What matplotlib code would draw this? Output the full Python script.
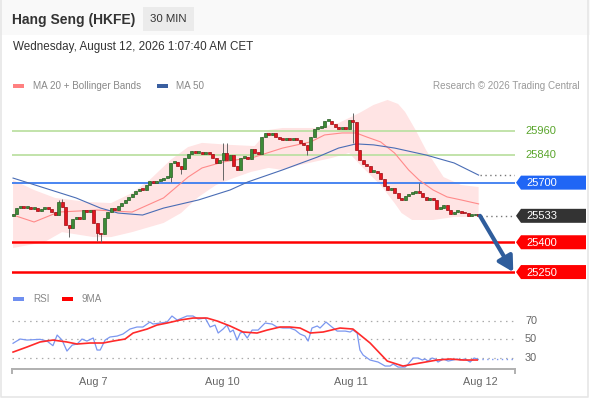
import numpy as np
import matplotlib
matplotlib.use("Agg")
import matplotlib.pyplot as plt
from matplotlib.patches import Polygon, Rectangle
from matplotlib.transforms import blended_transform_factory

plt.rcParams["font.family"] = ["Liberation Sans", "DejaVu Sans"]

# ---- values --------------------------------------------------------------
first_open = 25532
closes = [25542, 25572, 25577, 25572, 25577, 25567, 25572, 25557, 25567, 25572,
          25567, 25552, 25537, 25603, 25577, 25487, 25472, 25517, 25527, 25517,
          25562, 25552, 25562, 25497, 25446, 25441, 25522, 25552, 25572, 25562,
          25582, 25597, 25613, 25628, 25643, 25658, 25668, 25663, 25688, 25708,
          25698, 25708, 25713, 25723, 25728, 25799, 25804, 25784, 25769, 25824,
          25844, 25859, 25849, 25854, 25844, 25849, 25844, 25824, 25799, 25814,
          25849, 25814, 25839, 25784, 25764, 25824, 25829, 25819, 25869, 25849,
          25846, 25930, 25950, 25940, 25950, 25930, 25920, 25915, 25920, 25915,
          25920, 25915, 25900, 25890, 25864, 25930, 25970, 25975, 25980, 26010,
          26010, 25995, 25980, 25970, 25975, 25970, 26015, 26005, 25864, 25814,
          25794, 25784, 25754, 25759, 25749, 25718, 25683, 25663, 25673, 25648,
          25623, 25613, 25633, 25643, 25648, 25653, 25648, 25628, 25613, 25623,
          25613, 25567, 25572, 25587, 25562, 25542, 25552, 25557, 25547, 25545,
          25532, 25535, 25542, 25533]
wick_high = {13: 25613, 14: 25618, 60: 25900, 61: 25900, 97: 26051, 116: 25698}
wick_low = {16: 25426, 24: 25406, 25: 25401, 45: 25703, 48: 25743, 60: 25713,
            84: 25839, 97: 25900}

ma20_x = [0, 6, 13, 24, 34, 43, 50, 54, 60, 69, 77, 85, 89, 94, 98, 101, 105,
          109, 113, 116, 120, 124, 128, 133]
ma20 = [25537, 25502, 25552, 25562, 25552, 25623, 25728, 25774, 25804, 25829,
        25874, 25905, 25940, 25950, 25950, 25930, 25905, 25849, 25764, 25713,
        25663, 25628, 25613, 25593]
ma50_x = [0, 9, 18, 25, 30, 37, 43, 53, 62, 67, 77, 87, 93, 98, 103, 109, 118,
          126, 133]
ma50 = [25723, 25673, 25623, 25572, 25547, 25537, 25572, 25613, 25663, 25703,
        25764, 25829, 25874, 25895, 25890, 25874, 25839, 25799, 25738]
bb_up_x = [0, 6, 12, 21, 28, 34, 39, 45, 50, 54, 62, 69, 73, 77, 87, 93, 99,
           103, 107, 110, 112, 115, 118, 123, 128, 133]
bb_up = [25713, 25663, 25623, 25603, 25597, 25648, 25713, 25814, 25879, 25900,
         25890, 25884, 25965, 25975, 25975, 26000, 26051, 26091, 26116, 26096,
         26056, 25965, 25864, 25728, 25688, 25678]
bb_lo_x = [0, 9, 14, 23, 28, 34, 43, 48, 53, 58, 63, 68, 73, 77, 82, 91, 96,
           100, 105, 109, 111, 114, 120, 126, 133]
bb_lo = [25371, 25401, 25451, 25426, 25426, 25451, 25497, 25547, 25628, 25688,
         25723, 25754, 25774, 25764, 25789, 25824, 25849, 25774, 25688, 25597,
         25547, 25512, 25512, 25527, 25527]

rsi_x = [0, 2, 4, 7.7, 9.7, 11.4, 12.6, 14, 15.4, 16.9, 18.3, 19.7, 21.1, 22.9,
         24, 24.9, 26.3, 27.7, 29.7, 31.4, 33.4, 35.4, 37.1, 39.1, 40, 42, 44,
         45.4, 46.9, 48.3, 49.7, 51.4, 52.9, 54.9, 56.3, 57.7, 58.6, 60, 61.1,
         62, 62.9, 64, 64.9, 65.7, 66.9, 68.3, 70, 72, 74, 75.4, 77.1, 79.1,
         80.6, 82, 83.4, 84.3, 85.4, 86.9, 87.7, 89.4, 91.1, 92.6, 94.9, 96.3,
         97.1, 98.3, 99.1, 100, 102, 104.3, 106.3, 107.7, 108.6, 110, 112,
         112.9, 114.3, 115.7, 116.9, 117.7, 118.6, 119.7, 120.6, 121.4, 122.9,
         124.3, 125.7, 126.9, 127.7, 129.1, 130.6, 131.7, 132.6]
rsi = [45.4, 50, 48.9, 49.7, 47.8, 42.8, 54.3, 48.9, 37, 43.5, 44.6, 50, 47.8,
       51.1, 38.1, 38.1, 48.9, 52.2, 53.2, 55.4, 60.8, 63, 63, 68.4, 66.2, 67.3,
       68.4, 74.9, 70.5, 72.7, 74.9, 74.9, 71.6, 72.7, 63, 65.1, 56.5, 60.8,
       65.1, 57.6, 59.7, 48.9, 56.5, 57.6, 51.1, 59.7, 59.7, 67.3, 66.2, 63,
       61.9, 61.9, 59.7, 55.4, 53.2, 47.8, 61.9, 64.1, 61.9, 68.4, 63, 58.6,
       58.6, 57.6, 59.7, 56.5, 38.1, 32.7, 27.3, 25.1, 20.8, 20.8, 23, 19.7,
       19.7, 23, 29.5, 29.5, 27.3, 28.4, 26.2, 29.5, 28.4, 25.1, 28.4, 26.2,
       27.3, 28.4, 27.3, 28.4, 25.1, 29.5, 28.4]
rsi_ma_x = [0, 4, 7.7, 11.4, 15.4, 18.3, 22, 25.7, 28.6, 32, 34.3, 38.3, 41.1,
            44, 47.7, 51.4, 55.4, 58.3, 62, 65.7, 69.7, 72.6, 76.3, 79.1, 82,
            84.9, 88.6, 93.4, 97.1, 102, 106.9, 111.4, 116.3, 121.1, 124.9,
            128.6, 132.6]
rsi_ma = [35.9, 41.4, 46.8, 48.9, 46.8, 44.6, 45.7, 45.7, 47.8, 50, 56.5, 60.8,
          65.1, 67.3, 70.5, 72.7, 72.7, 69.5, 64.1, 57.6, 56.5, 59.7, 63, 63,
          61.9, 56.5, 57.6, 61.9, 60.8, 45.7, 26.2, 20.8, 24.1, 27.3, 28.4,
          27.3, 27.3]
rsi_levels = [70, 50, 30]

day_ticks = [22.9, 59.7, 96.6, 133.4]
day_labels = ["Aug 7", "Aug 10", "Aug 11", "Aug 12"]

green_levels = [25960, 25840]
blue_level = 25700
red_levels = [25400, 25250]
last_price = 25533
target = 25250

# ---- layout (pixel based, 590x400) ----------------------------------------
W, H = 590, 400
fig = plt.figure(figsize=(W / 100, H / 100), dpi=100)


def frac(x0, y0, x1, y1):
    return [x0 / W, 1 - y1 / H, (x1 - x0) / W, (y1 - y0) / H]


ov = fig.add_axes([0, 0, 1, 1], zorder=0)
ov.set_xlim(0, W)
ov.set_ylim(H, 0)
ov.axis("off")

XMAX = 143.4
ax = fig.add_axes(frac(12, 95, 515, 282), zorder=1)
ax.set_xlim(-0.3, XMAX)
ax.set_ylim(25200, 26141)
ax.axis("off")
ax.patch.set_alpha(0)

# header
ov.add_patch(Rectangle((0, 0), W, 35, color="#f9f9f9", lw=0))
ov.text(12, 20, "Hang Seng (HKFE)", fontsize=10, fontweight="bold",
        color="#333333", va="center")
ov.add_patch(Rectangle((143, 7), 51, 24, color="#ebebeb", lw=0))
ov.text(168.5, 19.5, "30 MIN", fontsize=8.2, color="#333333",
        ha="center", va="center")
ov.text(13, 47, "Wednesday, August 12, 2026 1:07:40 AM CET", fontsize=8.4,
        color="#333333", va="center")

# legends
ov.add_patch(Rectangle((13, 84), 11, 4, color="#ff8080", lw=0))
ov.text(33, 86, "MA 20 + Bollinger Bands", fontsize=7.1, color="#888888",
        va="center")
ov.add_patch(Rectangle((157, 84), 11, 4, color="#3a5fa0", lw=0))
ov.text(176, 86, "MA 50", fontsize=7.1, color="#888888", va="center")
ov.text(580, 86, "Research \u00a9 2026 Trading Central", fontsize=7.1,
        color="#999999", va="center", ha="right")
ov.add_patch(Rectangle((13, 297), 11, 4, color="#6f8ff0", lw=0))
ov.text(33, 299, "RSI", fontsize=7.1, color="#888888", va="center")
ov.add_patch(Rectangle((62, 297), 11, 4, color="#ff0000", lw=0))
ov.text(82, 299, "9MA", fontsize=7.1, color="#888888", va="center")

# card border
ov.plot([1, 1, 588, 588], [0, 397, 397, 0], color="#e6e6e6", lw=1.2)

# ---- price panel -----------------------------------------------------------
ax.fill(np.r_[bb_up_x, bb_lo_x[::-1]], np.r_[bb_up, bb_lo[::-1]],
        color="#ffe4e4", lw=0, zorder=1)

for lv in green_levels:
    ax.axhline(lv, color="#bde0a4", lw=1.3, zorder=2)
ax.axhline(blue_level, color="#3b7cf0", lw=1.3, zorder=2)
for lv in red_levels:
    ax.axhline(lv, color="#ff0000", lw=1.8, zorder=2)

ax.plot(ma20_x, ma20, color="#ff8a8a", lw=0.8, zorder=3)
ax.plot(ma50_x, ma50, color="#4a6db5", lw=0.8, zorder=3)
ax.plot([ma50_x[-1] + 0.5, XMAX], [ma50[-1]] * 2, color="#777777",
        ls=(0, (1, 2.5)), lw=1, zorder=3)

c = np.array(closes, dtype=float)
o = np.r_[first_open, c[:-1]]
idx = np.arange(len(c))
hi = np.maximum(o, c)
lo = np.minimum(o, c)
for k, v in wick_high.items():
    hi[k] = v
for k, v in wick_low.items():
    lo[k] = v
up = c >= o
body_lo = np.minimum(o, c)
body_h = np.maximum(np.abs(c - o), 8)
ax.vlines(idx, lo, hi, color="#666666", lw=0.7, zorder=4)
ax.bar(idx, body_h, bottom=body_lo, width=0.85,
       color=np.where(up, "#3d8b37", "#e3161f"),
       edgecolor=np.where(up, "#2a5f27", "#9c1016"), lw=0.5, zorder=5)

ax.plot([idx[-1] + 0.6, XMAX], [last_price] * 2, color="#777777",
        ls=(0, (1, 2.5)), lw=1, zorder=3)

ax.annotate("", xy=(142.9, target), xytext=(idx[-1] + 0.4, last_price),
            arrowprops=dict(arrowstyle="-|>,head_width=0.5,head_length=0.9",
                            color="#2f5d9c", lw=3, shrinkA=0, shrinkB=0),
            annotation_clip=False, zorder=6)


def px_y(a, val):
    return H - a.transData.transform((0, val))[1]


for lv in green_levels:
    ov.text(525, px_y(ax, lv), f"{lv}", fontsize=8, color="#5aa52c",
            va="center")
for lv, col in [(blue_level, "#2066f5"), (last_price, "#333333"),
                (red_levels[0], "#ff0000"), (red_levels[1], "#ff0000")]:
    y = px_y(ax, lv)
    ov.add_patch(Polygon([(516, y), (521, y - 7), (586, y - 7), (586, y + 7),
                          (521, y + 7)], closed=True, color=col, lw=0))
    ov.text(526, y + 0.5, f"{lv}", fontsize=8, color="white", va="center")

# ---- RSI panel -------------------------------------------------------------
rx = fig.add_axes(frac(12, 305, 515, 369), zorder=1)
rx.set_xlim(-0.3, XMAX)
rx.set_ylim(17.6, 86.8)
rx.patch.set_alpha(0)
for s in ["top", "right", "left"]:
    rx.spines[s].set_visible(False)
rx.spines["bottom"].set_color("#b0b0b0")
rx.spines["bottom"].set_linewidth(1.4)
rx.set_yticks([])
rx.set_xticks(day_ticks)
rx.set_xticklabels(day_labels, fontsize=7.8, color="#666666")
rx.tick_params(axis="x", length=0, pad=6)

for lv in rsi_levels:
    rx.axhline(lv, color="#aaaaaa", lw=0.9, ls=(0, (1.2, 3.5)), zorder=1)
    rx.text((525 - 12) / 503, lv, f"{lv}", fontsize=7.8, color="#666666",
            va="center", transform=blended_transform_factory(rx.transAxes,
                                                             rx.transData))
rx.plot(rsi_x, rsi, color="#7b97f0", lw=0.9, zorder=2)
rx.plot(rsi_ma_x, rsi_ma, color="#ff2a2a", lw=1.2, zorder=3)
rx.plot([rsi_x[-1], XMAX], [rsi[-1]] * 2, color="#7b97f0", lw=1,
        ls=(0, (1, 2.5)), zorder=2)

ov.plot([12, 12], [369, 373], color="#b0b0b0", lw=1.4)
ov.plot([515, 515], [369, 373], color="#b0b0b0", lw=1.4)

fig.savefig("out.png", dpi=100)
